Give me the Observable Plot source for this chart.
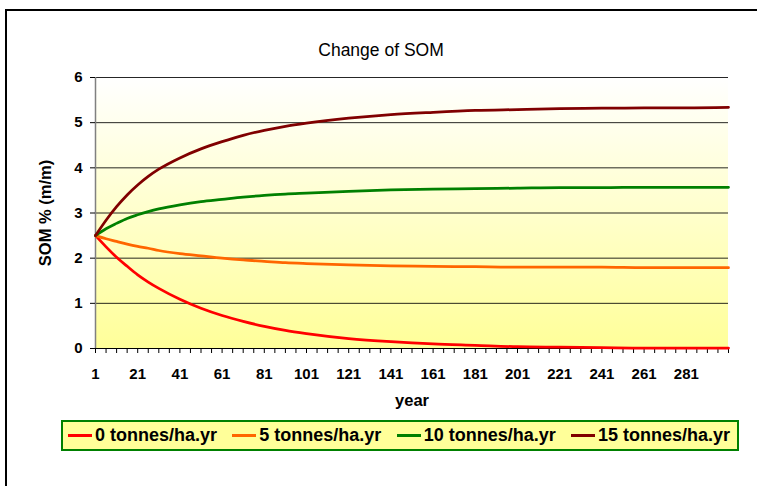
<!DOCTYPE html>
<html>
<head>
<meta charset="utf-8">
<script src="https://cdn.jsdelivr.net/npm/d3@7"></script>
<script src="https://cdn.jsdelivr.net/npm/@observablehq/plot@0.6"></script>
<style>
  html, body { margin: 0; padding: 0; background: #fff; overflow: hidden; }
  #wrap { position: relative; width: 768px; height: 486px; overflow: hidden; background: #fff; font-family: "Liberation Sans", Arial, sans-serif; }
  #frameTop { position: absolute; left: 5px; top: 9px; width: 752px; height: 2px; background: #000; }
  #frameLeft { position: absolute; left: 5px; top: 9px; width: 2px; height: 477px; background: #000; }
  #chart { position: absolute; left: 0; top: 0; }
  #legend { position: absolute; left: 61px; top: 420px; height: 27px; border: 2px solid #008000; background: #FFFF99;
            display: flex; align-items: center; justify-content: space-between; padding: 0 7px 0 5px; box-sizing: content-box; width: 662px; }
  .item { display: flex; align-items: center; font-weight: bold; font-size: 18px; color: #000; white-space: nowrap; }
  .sw { width: 24px; height: 3px; margin-right: 3px; }
</style>
</head>
<body>
<div id="wrap">
  <div id="frameTop"></div>
  <div id="frameLeft"></div>
  <div id="chart"></div>
  <div id="legend"></div>
</div>
<script>
// ---- data ----
const years = [1, 6, 11, 16, 21, 26, 31, 41, 51, 61, 71, 81, 91, 101, 121, 141, 161, 181, 201, 221, 241, 261, 281, 301];
const som0  = [2.50, 2.25, 2.02, 1.82, 1.63, 1.47, 1.33, 1.09, 0.89, 0.73, 0.60, 0.49, 0.40, 0.33, 0.22, 0.15, 0.10, 0.07, 0.04, 0.03, 0.02, 0.01, 0.01, 0.01];
const som5  = [2.50, 2.43, 2.37, 2.31, 2.26, 2.22, 2.17, 2.10, 2.05, 2.00, 1.96, 1.93, 1.90, 1.88, 1.85, 1.83, 1.82, 1.81, 1.80, 1.80, 1.80, 1.79, 1.79, 1.79];
const som10 = [2.50, 2.65, 2.77, 2.88, 2.96, 3.03, 3.09, 3.18, 3.25, 3.30, 3.35, 3.39, 3.42, 3.44, 3.48, 3.51, 3.53, 3.54, 3.55, 3.56, 3.56, 3.57, 3.57, 3.57];
const som15 = [2.50, 2.84, 3.14, 3.40, 3.62, 3.81, 3.97, 4.22, 4.42, 4.58, 4.72, 4.83, 4.92, 4.99, 5.10, 5.18, 5.23, 5.27, 5.29, 5.31, 5.32, 5.33, 5.33, 5.34];
const seriesNames = ["0 tonnes/ha.yr", "5 tonnes/ha.yr", "10 tonnes/ha.yr", "15 tonnes/ha.yr"];
const seriesColors = ["#FF0000", "#FF6600", "#008000", "#800000"];
const yTicks = [0, 1, 2, 3, 4, 5, 6];
const xLabels = [1, 21, 41, 61, 81, 101, 121, 141, 161, 181, 201, 221, 241, 261, 281];
const titleText = "Change of SOM";
const xTitle = "year";
const yTitle = "SOM % (m/m)";

// ---- build table ----
const allSeries = [som0, som5, som10, som15];
const rows = [];
allSeries.forEach((vals, s) => vals.forEach((v, i) => rows.push({year: years[i], som: v, series: seriesNames[s]})));
const xTickPositions = d3.range(1, 302, 5);

const background = (index, scales) => {
  const g = d3.create("svg:g");
  const lg = g.append("defs").append("linearGradient").attr("id", "plotbg")
    .attr("x1", 0).attr("y1", 0).attr("x2", 0).attr("y2", 1);
  lg.append("stop").attr("offset", "0%").attr("stop-color", "#FFFFFF");
  lg.append("stop").attr("offset", "100%").attr("stop-color", "#FFFF99");
  const x0 = scales.x(1), x1 = scales.x(301), y0 = scales.y(6), y1 = scales.y(0);
  g.append("rect").attr("x", x0).attr("y", y0).attr("width", x1 - x0).attr("height", y1 - y0).attr("fill", "url(#plotbg)");
  return g.node();
};

const chart = Plot.plot({
  width: 768,
  height: 486,
  marginLeft: 95,
  marginRight: 40,
  marginTop: 77,
  marginBottom: 138,
  x: {domain: [1, 301]},
  y: {domain: [0, 6]},
  color: {domain: seriesNames, range: seriesColors},
  style: {background: "transparent", fontFamily: "'Liberation Sans', Arial, sans-serif", fontSize: "15px", fontWeight: "bold", color: "#000"},
  marks: [
    background,
    Plot.ruleY(yTicks.filter(d => d > 0), {stroke: "#000", strokeWidth: 1, strokeOpacity: 0.85}),
    Plot.ruleX([1], {stroke: "#808080", strokeWidth: 1.5}),
    Plot.ruleY([0], {stroke: "#000", strokeWidth: 1}),
    Plot.axisY({ticks: yTicks, tickSize: 5, tickPadding: 8, label: null, tickFormat: d => String(d)}),
    Plot.axisX({ticks: xTickPositions, tickSize: 5, tickPadding: 15, label: null,
                tickFormat: d => xLabels.includes(d) ? String(d) : ""}),
    Plot.line(rows, {x: "year", y: "som", z: "series", stroke: "series", curve: "monotone-x", strokeWidth: 2.75}),
    Plot.text([yTitle], {text: d => d, frameAnchor: "left", dx: -50, rotate: -90, fontSize: 16.5, fontWeight: "bold", textAnchor: "middle"}),
    Plot.text([xTitle], {text: d => d, frameAnchor: "bottom", dy: 57, fontSize: 16.5, fontWeight: "bold", textAnchor: "middle"}),
    Plot.text([titleText], {text: d => d, frameAnchor: "top", dx: -31, dy: -34, fontSize: 17.5, fontWeight: "normal", textAnchor: "middle"})
  ]
});
document.getElementById("chart").appendChild(chart);

const legend = document.getElementById("legend");
seriesNames.forEach((name, i) => {
  const item = document.createElement("div");
  item.className = "item";
  const sw = document.createElement("span");
  sw.className = "sw";
  sw.style.background = seriesColors[i];
  const label = document.createElement("span");
  label.textContent = name;
  item.appendChild(sw);
  item.appendChild(label);
  legend.appendChild(item);
});
</script>
</body>
</html>
